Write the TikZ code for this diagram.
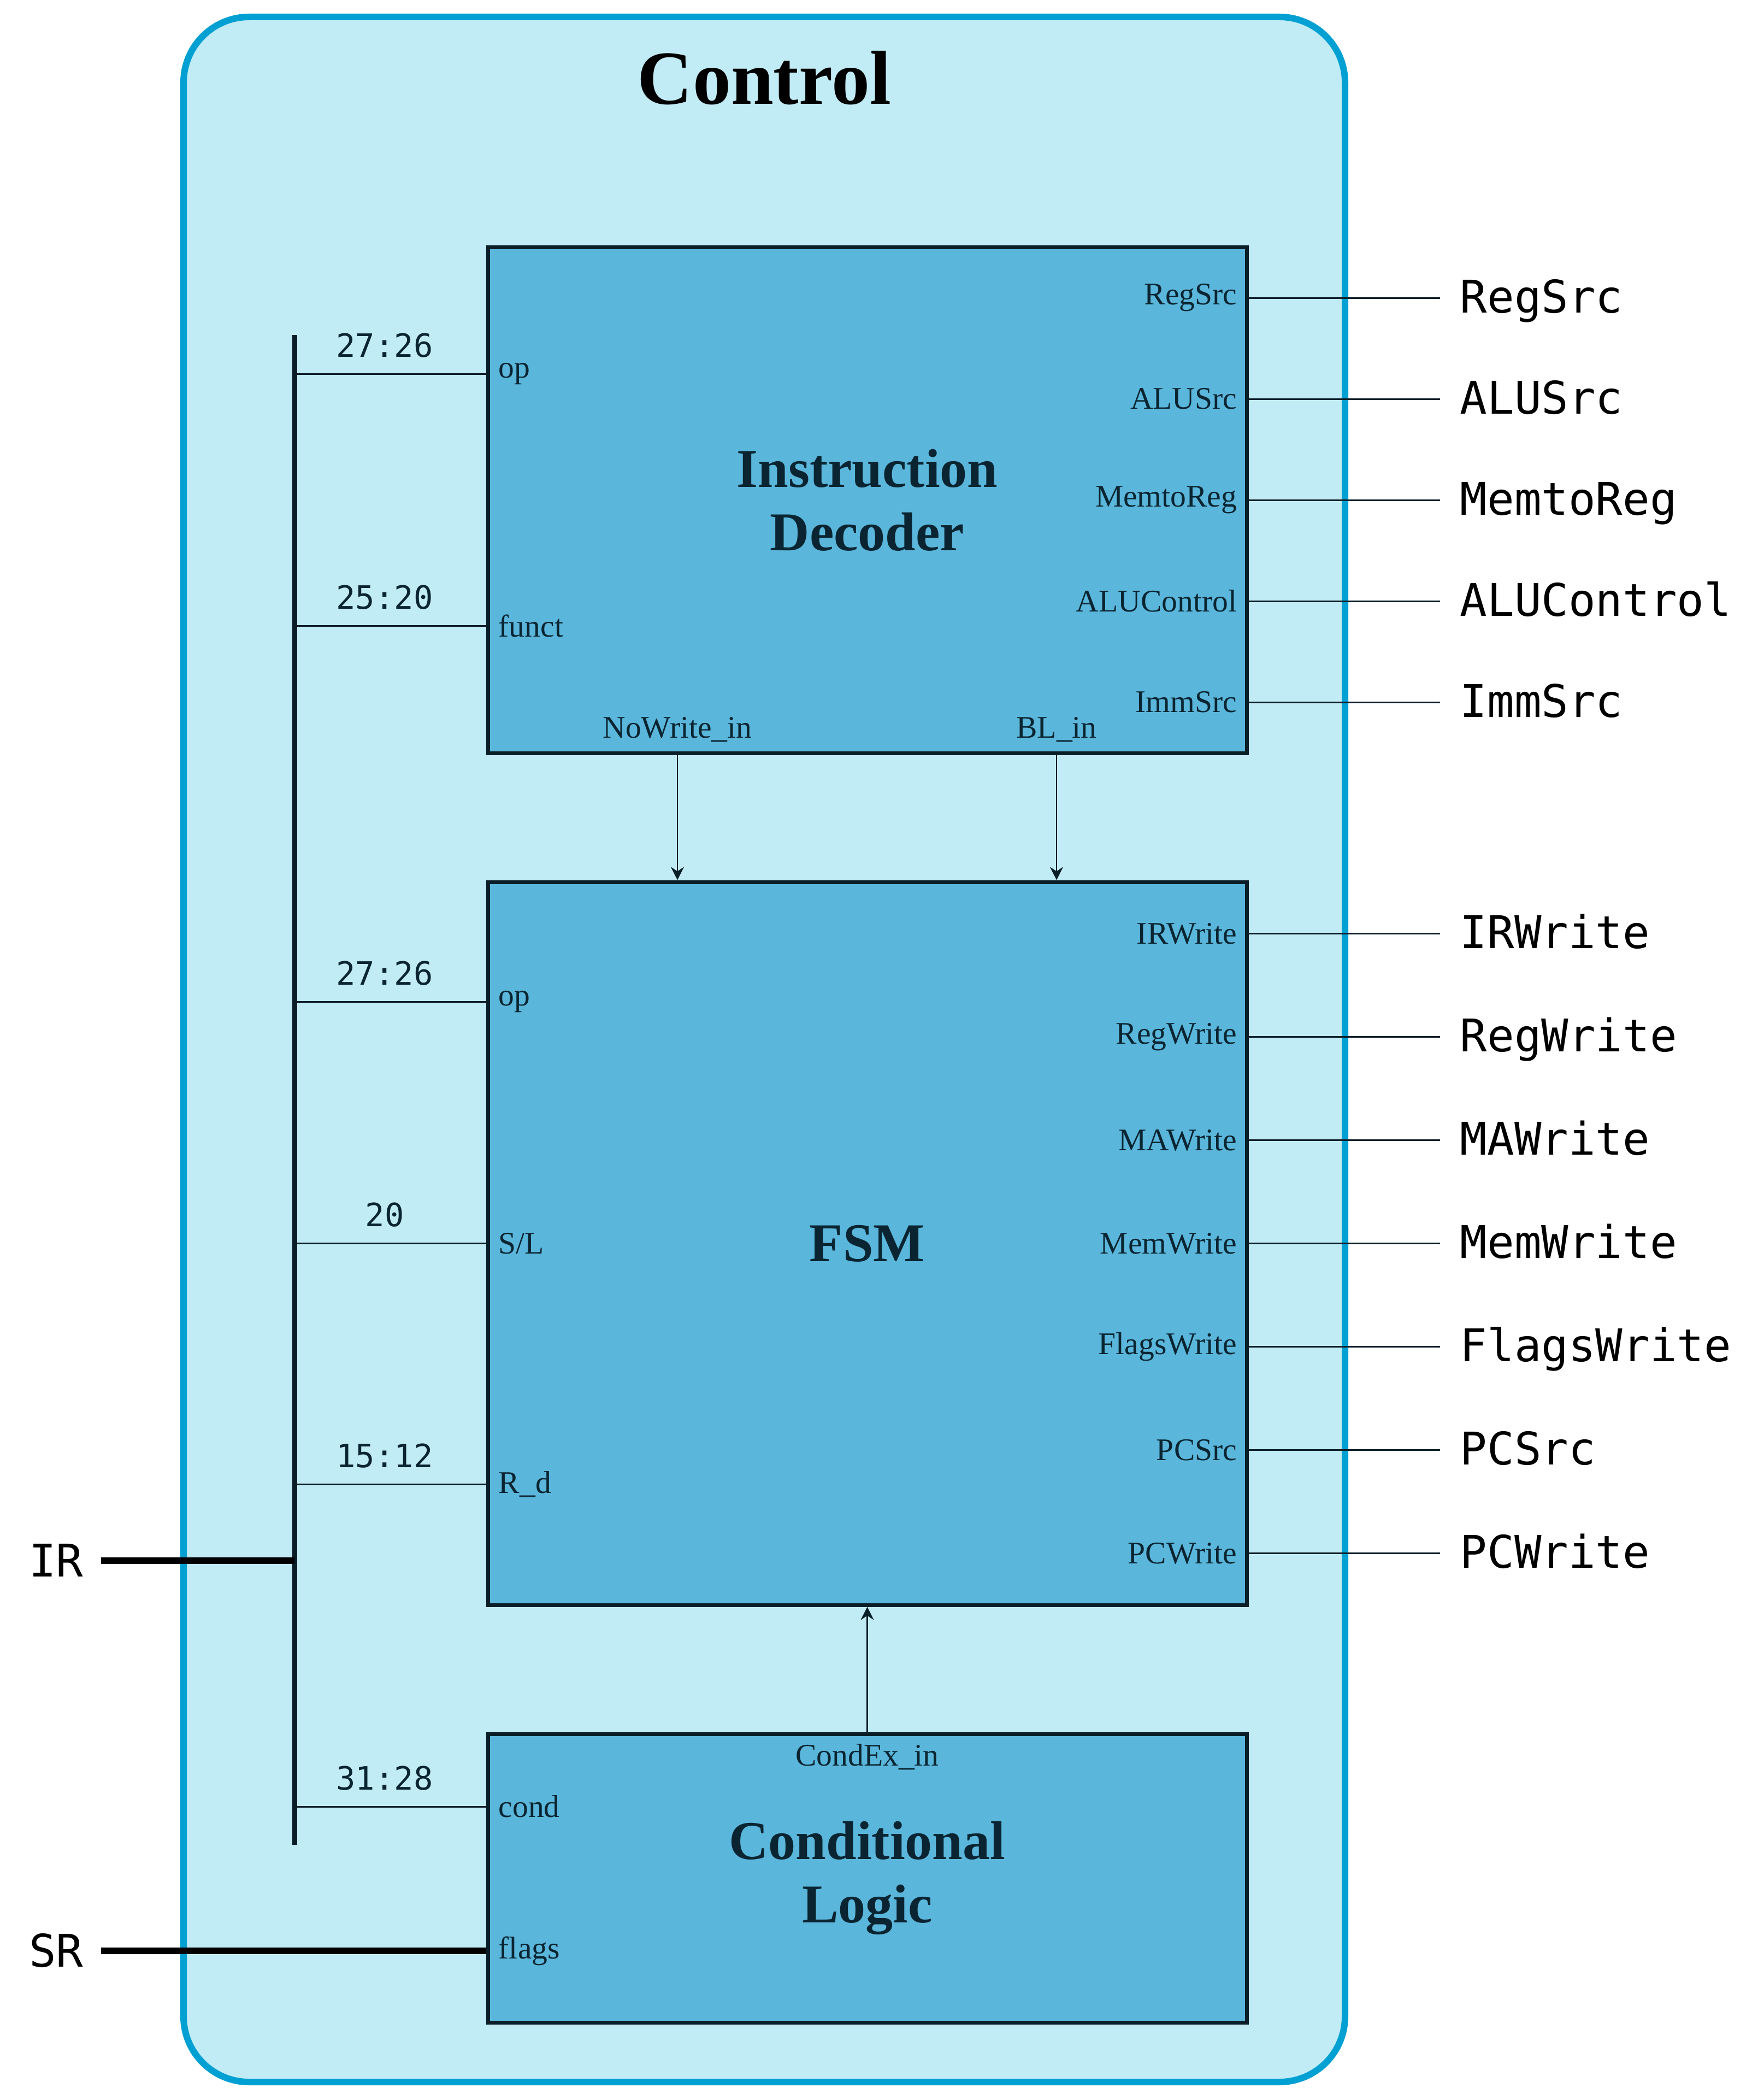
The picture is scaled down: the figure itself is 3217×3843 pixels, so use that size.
\documentclass[tikz,border=0pt]{standalone}
\usepackage{fontspec}
\setmainfont{Liberation Serif}
\newfontfamily\monof{DejaVu Sans Mono}
\usetikzlibrary{arrows.meta}
\definecolor{outfill}{HTML}{C2ECF5}
\definecolor{outdraw}{HTML}{00A0D3}
\definecolor{blkfill}{HTML}{5BB6DB}
\definecolor{blkdraw}{HTML}{0A1E28}
\definecolor{ink}{HTML}{0A2531}
\begin{document}
\begin{tikzpicture}[x=0.25pt,y=-0.25pt,
  outerbox/.style={draw=outdraw,fill=outfill,line width=3pt,rounded corners=30pt},
  blk/.style={draw=blkdraw,fill=blkfill,line width=1.75pt,minimum width=347.25pt,inner sep=0pt,
    font=\fontsize{25}{29}\selectfont\bfseries,text=ink,align=center},
  ttl/.style={font=\fontsize{35}{40}\selectfont\bfseries,text=black,inner sep=0pt},
  portl/.style={font=\fontsize{14.4}{16}\selectfont,text=ink,inner sep=0pt},
  taplbl/.style={font=\monof\fontsize{14.7}{16}\selectfont,text=ink,inner sep=0pt,anchor=south},
  outlbl/.style={font=\monof\fontsize{20.6}{24}\selectfont,text=black,inner sep=0pt,anchor=base west},
  wire/.style={draw=blkdraw,line width=0.75pt},
  buswire/.style={draw=blkdraw,line width=2.25pt},
  thickwire/.style={draw=black,line width=3pt},
  arr/.style={draw=blkdraw,line width=0.6pt,-{Stealth[length=6pt,width=6pt,inset=2pt]}}
]
\useasboundingbox (0,0) rectangle (3217,3843);
% container
\draw[outerbox] (336,31) rectangle (2462,3810);
\node[ttl,anchor=base] (title) at (1399,191) {Control};
% blocks
\node[blk,minimum height=231.5pt] (id) at (1587.5,915) {Instruction\\Decoder};
\node[blk,minimum height=330.75pt] (fsm) at (1587.5,2275.5) {FSM};
\node[blk,minimum height=132pt] (cond) at (1587.5,3437) {Conditional\\Logic};
% outputs of instruction decoder
\foreach \n/\yy in {RegSrc/545, ALUSrc/730, MemtoReg/915, ALUControl/1100, ImmSrc/1285,
  IRWrite/1708.5, RegWrite/1897.5, MAWrite/2086.5, MemWrite/2275.5, FlagsWrite/2464.5,
  PCSrc/2653.5, PCWrite/2842.5} {
  \coordinate (e\n) at (2636,\yy);
  \coordinate (s\n) at (2282,\yy);
  \node[portl,anchor=east] (p\n) at (2265,\yy) {\n};
  \node[outlbl] (o\n) at (2672,\yy+27) {\n};
  \draw[wire] (s\n) -- (e\n);
}
% IR bus
\coordinate (busT) at (539,613);
\coordinate (busB) at (539,3376);
\draw[buswire] (busT) -- (busB);
% taps
\coordinate (t1) at (539,684);
\coordinate (t2) at (539,1145);
\coordinate (t3) at (539,1833);
\coordinate (t4) at (539,2275.5);
\coordinate (t5) at (539,2716);
\coordinate (t6) at (539,3306);
\node[portl,anchor=west] (iop1) at (912,684) {op};
\node[portl,anchor=west] (ifunct) at (912,1145) {funct};
\node[portl,anchor=west] (iop2) at (912,1833) {op};
\node[portl,anchor=west] (isl) at (912,2275.5) {S/L};
\node[portl,anchor=west] (ird) at (912,2716) {R\_d};
\node[portl,anchor=west] (icond) at (912,3306) {cond};
\node[portl,anchor=west] (iflags) at (912,3570) {flags};
\node[taplbl] (l1) at (704,655) {27:26};
\node[taplbl] (l2) at (704,1116) {25:20};
\node[taplbl] (l3) at (704,1804) {27:26};
\node[taplbl] (l4) at (704,2246.5) {20};
\node[taplbl] (l5) at (704,2687) {15:12};
\node[taplbl] (l6) at (704,3277) {31:28};
\draw[wire] (t1) -- (id.west |- t1);
\draw[wire] (t2) -- (id.west |- t2);
\draw[wire] (t3) -- (fsm.west |- t3);
\draw[wire] (t4) -- (fsm.west |- t4);
\draw[wire] (t5) -- (fsm.west |- t5);
\draw[wire] (t6) -- (cond.west |- t6);
% IR and SR inputs
\node[outlbl,anchor=base] (ir) at (103,2885) {IR};
\node[outlbl,anchor=base] (sr) at (103,3599) {SR};
\coordinate (irS) at (185,2856);
\coordinate (srS) at (185,3570);
\draw[thickwire] (irS) -- (busT |- irS);
\draw[thickwire] (srS) -- (cond.west |- srS);
% internal arrows
\node[portl,anchor=base] (pnw) at (1240,1350) {NoWrite\_in};
\node[portl,anchor=base] (pbl) at (1934,1350) {BL\_in};
\node[portl,anchor=base] (pce) at (1587.5,3231) {CondEx\_in};
\draw[arr] (id.south -| pnw) -- (fsm.north -| pnw);
\draw[arr] (id.south -| pbl) -- (fsm.north -| pbl);
\draw[arr] (cond.north) -- (fsm.south);
\end{tikzpicture}
\end{document}
